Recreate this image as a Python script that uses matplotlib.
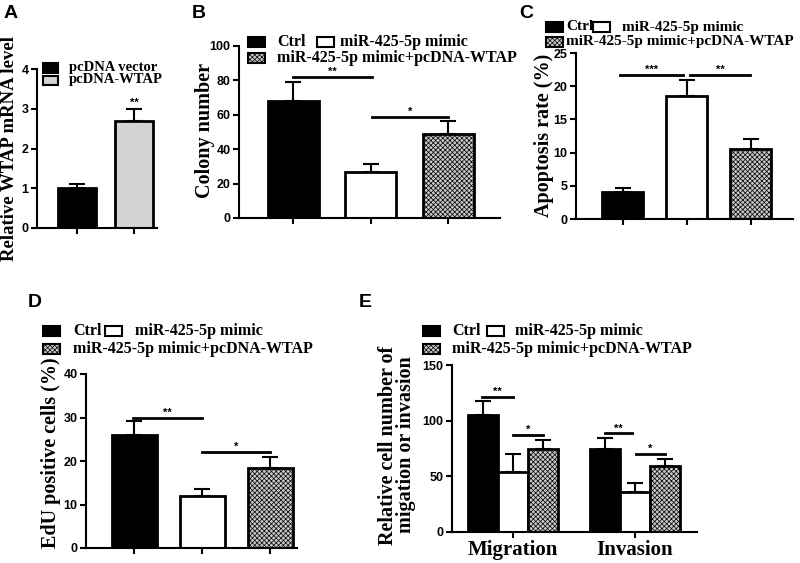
import matplotlib
matplotlib.use("Agg")
import matplotlib.pyplot as plt
from matplotlib.patches import Rectangle

plt.rcParams['hatch.color'] = 'black'
plt.rcParams['hatch.linewidth'] = 0.5

# ---- data ----
a_groups = ['pcDNA vector', 'pcDNA-WTAP']
a_mean = [1.0, 2.7]
a_sd = [0.1, 0.3]

groups = ['Ctrl', 'miR-425-5p mimic', 'miR-425-5p mimic+pcDNA-WTAP']
b_mean = [68, 27, 49]
b_sd = [11, 4.5, 7.5]
c_mean = [4.0, 18.5, 10.5]
c_sd = [0.6, 2.5, 1.5]
d_mean = [26, 12, 18.5]
d_sd = [3.3, 1.5, 2.5]

e_cats = ['Migration', 'Invasion']
e_mean = {'Ctrl': [105, 75], 'miR-425-5p mimic': [54, 36], 'miR-425-5p mimic+pcDNA-WTAP': [75, 59]}
e_sd = {'Ctrl': [13, 9], 'miR-425-5p mimic': [16, 8], 'miR-425-5p mimic+pcDNA-WTAP': [8, 7]}

W, H = 800, 563
SERIF = 'Liberation Serif'
SANS = 'Liberation Sans'

styles = {'pcDNA vector': dict(fc='black', hatch=None),
          'pcDNA-WTAP': dict(fc='#d3d3d3', hatch=None),
          'Ctrl': dict(fc='black', hatch=None),
          'miR-425-5p mimic': dict(fc='white', hatch=None),
          'miR-425-5p mimic+pcDNA-WTAP': dict(fc='#c8c8c8', hatch='xxxxxxx')}

fig = plt.figure(figsize=(W / 100, H / 100), dpi=100)


def px(x, y):
    return x / W, 1 - y / H


def make_ax(l, t, r, b):
    x0, y0 = px(l, b)
    x1, y1 = px(r, t)
    ax = fig.add_axes([x0, y0, x1 - x0, y1 - y0])
    for s in ['top', 'right']:
        ax.spines[s].set_visible(False)
    for s in ['left', 'bottom']:
        ax.spines[s].set_linewidth(1.5)
    ax.tick_params(width=1.5, length=4, labelsize=9, pad=2)
    return ax


def bars(ax, xs, means, sds, names, width):
    for x, m, s, n in zip(xs, means, sds, names):
        st = styles[n]
        ax.bar(x, m, width, color=st['fc'], edgecolor='black', linewidth=2,
               hatch=st['hatch'], zorder=2)
        ax.errorbar(x, m, yerr=[[0], [s]], fmt='none', ecolor='black',
                    elinewidth=1.5, capsize=6, capthick=1.5, zorder=1)


def sig(ax, x0, x1, y, txt):
    ax.plot([x0, x1], [y, y], color='black', lw=2, clip_on=False)
    ax.text((x0 + x1) / 2, y, txt, ha='center', va='bottom', fontsize=8,
            fontfamily=SANS, fontweight='bold')


def yticks_font(ax):
    for lab in ax.get_yticklabels():
        lab.set_fontfamily(SANS)
        lab.set_fontweight('bold')


def leg_entry(x, y, name, tx, size=11.5, hw=17, hh=10):
    st = styles[name]
    x0, y0 = px(x, y + hh / 2)
    r = Rectangle((x0, y0), hw / W, hh / H, transform=fig.transFigure,
                  facecolor=st['fc'], edgecolor='black', linewidth=1.5,
                  hatch=st['hatch'])
    fig.add_artist(r)
    fig.text(*px(tx, y), name, ha='left', va='center', fontsize=size,
             fontfamily=SERIF, fontweight='bold')


def ylab(x, y, txt, size=14.5):
    fig.text(*px(x, y), txt, rotation=90, ha='center', va='center',
             fontsize=size, fontfamily=SERIF, fontweight='bold',
             linespacing=0.85)


def panel(x, y, letter):
    fig.text(*px(x, y), letter, ha='left', va='top', fontsize=14,
             fontfamily=SANS, fontweight='bold')


# ---- A ----
ax = make_ax(37, 69, 157, 228)
bars(ax, [0, 1], a_mean, a_sd, a_groups, 0.67)
ax.set_xlim(-0.70, 1.40)
ax.set_ylim(0, 4)
ax.set_yticks([0, 1, 2, 3, 4])
ax.set_xticks([0, 1])
ax.set_xticklabels([])
yticks_font(ax)
ax.text(1, a_mean[1] + a_sd[1] + 0.03, '**', ha='center', va='bottom',
        fontsize=8, fontfamily=SANS, fontweight='bold')
leg_entry(43, 68, a_groups[0], 69, size=10.5, hw=15, hh=9)
leg_entry(43, 80, a_groups[1], 69, size=10.5, hw=15, hh=9)
ylab(10, 148, 'Relative WTAP mRNA level', size=13.5)
panel(4, 5, 'A')

# ---- B ----
ax = make_ax(239, 46, 500, 218)
bars(ax, [0, 1, 2], b_mean, b_sd, groups, 0.66)
ax.set_xlim(-0.70, 2.67)
ax.set_ylim(0, 100)
ax.set_yticks([0, 20, 40, 60, 80, 100])
ax.set_xticks([0, 1, 2])
ax.set_xticklabels([])
yticks_font(ax)
sig(ax, 0.0, 1.02, 82, '**')
sig(ax, 1.02, 2.0, 59, '*')
leg_entry(248, 42, groups[0], 277)
leg_entry(317, 42, groups[1], 340)
leg_entry(248, 58, groups[2], 277)
ylab(205, 131, 'Colony number')
panel(192, 5, 'B')

# ---- C ----
ax = make_ax(576, 53, 793, 219)
bars(ax, [0, 1, 2], c_mean, c_sd, groups, 0.64)
ax.set_xlim(-0.73, 2.66)
ax.set_ylim(0, 25)
ax.set_yticks([0, 5, 10, 15, 20, 25])
ax.set_xticks([0, 1, 2])
ax.set_xticklabels([])
yticks_font(ax)
sig(ax, -0.04, 0.94, 21.7, '***')
sig(ax, 1.05, 1.99, 21.7, '**')
leg_entry(546, 27, groups[0], 566, size=11)
leg_entry(593, 27, groups[1], 622, size=11)
leg_entry(546, 42, groups[2], 566, size=11)
ylab(544, 135, 'Apoptosis rate (%)')
panel(519, 5, 'C')

# ---- D ----
ax = make_ax(86, 374, 297, 548)
bars(ax, [0, 1, 2], d_mean, d_sd, groups, 0.66)
ax.set_xlim(-0.71, 2.39)
ax.set_ylim(0, 40)
ax.set_yticks([0, 10, 20, 30, 40])
ax.set_xticks([0, 1, 2])
ax.set_xticklabels([])
yticks_font(ax)
sig(ax, -0.02, 1.0, 30, '**')
sig(ax, 1.0, 2.0, 22, '*')
leg_entry(43, 331, groups[0], 73)
leg_entry(105, 331, groups[1], 135)
leg_entry(43, 349, groups[2], 73)
ylab(51, 453, 'EdU positive cells (%)')
panel(28, 294, 'D')

# ---- E ----
ax = make_ax(452, 365, 697, 532)
bw = 0.246
for i, n in enumerate(groups):
    xs = [c + (i - 1) * bw for c in range(len(e_cats))]
    bars(ax, xs, e_mean[n], e_sd[n], [n] * len(e_cats), bw)
ax.set_xlim(-0.5, 1.51)
ax.set_ylim(0, 150)
ax.set_yticks([0, 50, 100, 150])
ax.set_xticks([0, 1])
ax.set_xticklabels(e_cats, fontsize=15, fontfamily=SERIF, fontweight='bold')
yticks_font(ax)
sig(ax, -0.25, 0.0, 121.5, '**')
sig(ax, 0.0, 0.25, 87, '*')
sig(ax, 0.754, 0.98, 88.6, '**')
sig(ax, 1.01, 1.25, 70, '*')
leg_entry(423, 331, groups[0], 452)
leg_entry(487, 331, groups[1], 515)
leg_entry(423, 349, groups[2], 452)
ylab(397, 445, 'Relative cell number of\nmigation or invasion')
panel(359, 294, 'E')

fig.savefig('out.png', dpi=100)
